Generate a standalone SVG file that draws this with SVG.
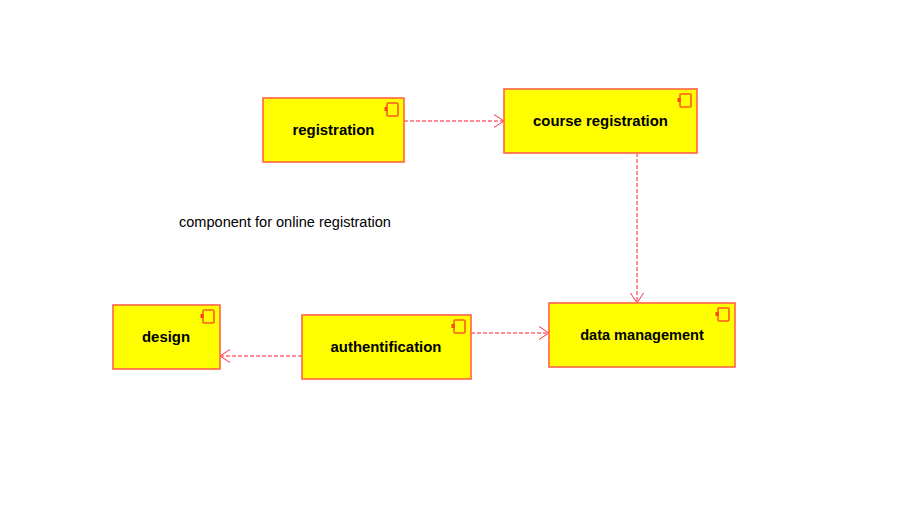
<svg xmlns="http://www.w3.org/2000/svg" width="897" height="505" viewBox="0 0 897 505">
<style>
.box{fill:#ffff00;stroke:#ff6347;stroke-width:1.6}
.ic{fill:none;stroke:#ff5a1e;stroke-width:1.6}
.pin{fill:#ff4020;stroke:none}
.lbl{font-family:"Liberation Sans",Arial,sans-serif;font-size:14.9px;font-weight:bold;fill:#000;text-anchor:middle}
.note{font-family:"Liberation Sans",Arial,sans-serif;font-size:14.55px;fill:#000}
.conn{fill:none;stroke:#ff6a78;stroke-width:1.5;stroke-dasharray:4 2}
.head{fill:none;stroke:#ff3040;stroke-width:1}
</style>
<defs>
<g id="icon">
<rect class="ic" x="-11" y="0" width="11" height="13" rx="1"/>
<rect class="pin" x="-13.500" y="4" width="3" height="4"/>
</g>
</defs>
<rect width="897" height="505" fill="#fff"/>
<g id="connectors">
<path class="conn" d="M404 121H503"/>
<path class="head" d="M494 114.500L504 121L494 127.500"/>
<path class="conn" d="M637 153V302"/>
<path class="head" d="M630.500 293L637 303L643.500 293"/>
<path class="conn" d="M471 333H548"/>
<path class="head" d="M539 326.500L549 333L539 339.500"/>
<path class="conn" d="M302 356H221"/>
<path class="head" d="M230 349.500L220 356L230 362.500"/>
</g>
<g id="registration">
<rect class="box" x="263" y="98" width="141" height="64"/>
<use href="#icon" x="398" y="103"/>
<text class="lbl" x="333.500" y="135">registration</text>
</g>
<g id="course-registration">
<rect class="box" x="504" y="89" width="193" height="64"/>
<use href="#icon" x="691" y="94"/>
<text class="lbl" x="600.500" y="126">course registration</text>
</g>
<g id="data-management">
<rect class="box" x="549" y="303" width="186" height="64"/>
<use href="#icon" x="729" y="308"/>
<text class="lbl" x="642" y="340" style="font-size:14.55px">data management</text>
</g>
<g id="authentification">
<rect class="box" x="302" y="315" width="169" height="64"/>
<use href="#icon" x="465" y="320"/>
<text class="lbl" x="386" y="352">authentification</text>
</g>
<g id="design">
<rect class="box" x="113" y="305" width="107" height="64"/>
<use href="#icon" x="214" y="310"/>
<text class="lbl" x="166" y="342">design</text>
</g>
<text class="note" x="179" y="227">component for online registration</text>
</svg>
